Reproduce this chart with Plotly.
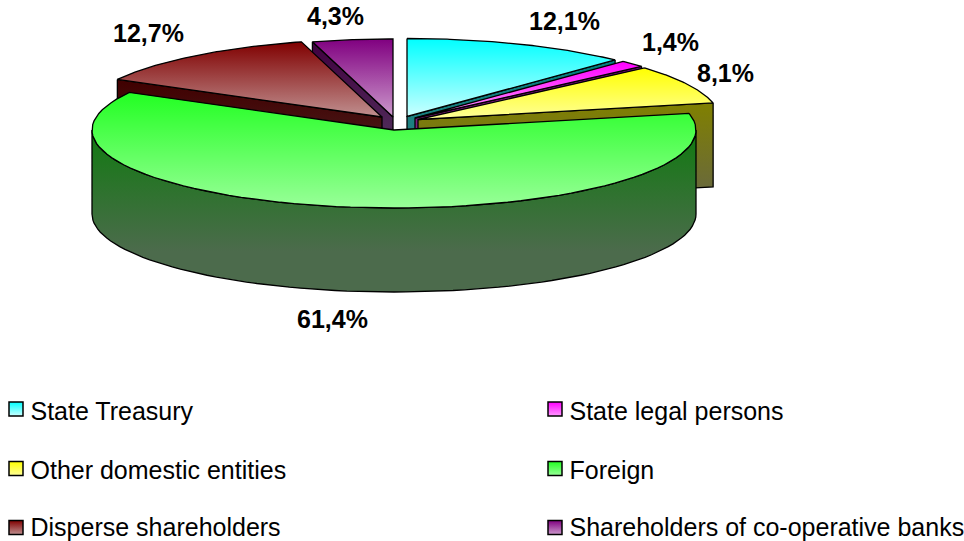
import math
import plotly.graph_objects as go

categories = ["State Treasury", "State legal persons", "Other domestic entities",
              "Foreign", "Disperse shareholders", "Shareholders of co-operative banks"]
shares = [12.1, 1.4, 8.1, 61.4, 12.7, 4.3]
value_labels = ["12,1%", "1,4%", "8,1%", "61,4%", "12,7%", "4,3%"]

# pie projection (pixel-space layout parameters)
apex_x = [407, 415, 418, 394, 382, 393]
apex_y = [116.5, 118, 119.5, 130, 117, 117]
RX, RY, DEPTH = 302, 78, 84

top_light = ["#CCFFFF", "#FF99FF", "#FFFF99", "#99FF99", "#C09090", "#CC99CC"]
top_dark = ["#00FFFF", "#FF00FF", "#FFFF00", "#22FF22", "#800000", "#800080"]
side_dark = ["#008080", "#800080", "#808000", "#107A10", "#400000", "#400040"]
side_light = ["#407F7F", "#7F407F", "#666644", "#4C6B4C", "#502F2F", "#5A4A6A"]

label_x = [564, 670, 725, 332, 148, 335]
label_y = [21, 42, 73, 319, 33, 16]
legend_x = [16, 555, 16, 555, 16, 555]
legend_y = [409, 409, 468.5, 468.5, 527.5, 527.5]
legend_text_y = [414, 414, 472.5, 472.5, 529.5, 529.5]

# cumulative angles clockwise from 12 o'clock
bounds = [0]
for s in shares:
    bounds.append(bounds[-1] + s)
total = bounds[-1]
ang = [b / total * 2 * math.pi for b in bounds]


def point(i, a, drop=0):
    return apex_x[i] + RX * math.sin(a), apex_y[i] - RY * math.cos(a) + drop


def arc(i, a0, a1, drop=0, n=80):
    pts = [point(i, a0 + (a1 - a0) * k / n, drop) for k in range(n + 1)]
    return [p[0] for p in pts], [p[1] for p in pts]


fig = go.Figure()


def face(xs, ys, dark, light, hold=0.0):
    scale = [[0, light], [hold, light], [1, dark]] if hold else [[0, light], [1, dark]]
    fig.add_trace(go.Scatter(
        x=xs + xs[:1], y=ys + ys[:1], mode="lines", fill="toself",
        line=dict(color="#000000", width=1.3),
        fillgradient=dict(type="vertical", colorscale=scale),
        hoverinfo="skip", showlegend=False))


def cut_face(i, a):
    x0, y0 = point(i, a)
    x1, y1 = point(i, a, DEPTH)
    ax, ay = apex_x[i], apex_y[i]
    face([x0, x1, ax, ax], [y0, y1, ay + DEPTH, ay], side_dark[i], side_light[i])


def top_face(i):
    xs, ys = arc(i, ang[i], ang[i + 1])
    face(xs + [apex_x[i]], ys + [apex_y[i]], top_dark[i], top_light[i])


# back-to-front painting order
for i, a in [(5, ang[5]), (0, ang[1]), (1, ang[2]), (2, ang[3]), (4, ang[4])]:
    cut_face(i, a)
    top_face(i)

# foreign: curved wall, then top
xt, yt = arc(3, math.pi / 2, 3 * math.pi / 2)
xb, yb = arc(3, 3 * math.pi / 2, math.pi / 2, DEPTH)
face(xt + xb, yt + yb, side_dark[3], side_light[3], hold=0.25)
top_face(3)

# legend swatches with their labels
for name, x, y, ty, dark, light in zip(categories, legend_x, legend_y, legend_text_y,
                                       top_dark, top_light):
    fig.add_trace(go.Scatter(
        x=[x], y=[y], mode="markers",
        marker=dict(symbol="square", size=14, color=dark,
                    gradient=dict(type="vertical", color=light),
                    line=dict(color="#000000", width=1.5)),
        name=name, hoverinfo="skip", showlegend=False))
    fig.add_trace(go.Scatter(
        x=[x + 14.5], y=[ty], mode="text", text=[name], textposition="middle right",
        textfont=dict(family="Liberation Sans", size=25, color="#000000"),
        hoverinfo="skip", showlegend=False, cliponaxis=False))

for text, x, y in zip(value_labels, label_x, label_y):
    fig.add_annotation(x=x, y=y, text=f"<b>{text}</b>", showarrow=False, xref="x", yref="y",
                       font=dict(family="Liberation Sans", size=25, color="#000000"))

fig.update_layout(
    width=964, height=541, margin=dict(l=0, r=0, t=0, b=0),
    paper_bgcolor="#FFFFFF", plot_bgcolor="#FFFFFF", showlegend=False,
    xaxis=dict(range=[0, 964], visible=False, fixedrange=True),
    yaxis=dict(range=[541, 0], visible=False, fixedrange=True),
)
fig.write_html("out.html", post_script="document.body.style.margin='0';",
               config={"displayModeBar": False})
